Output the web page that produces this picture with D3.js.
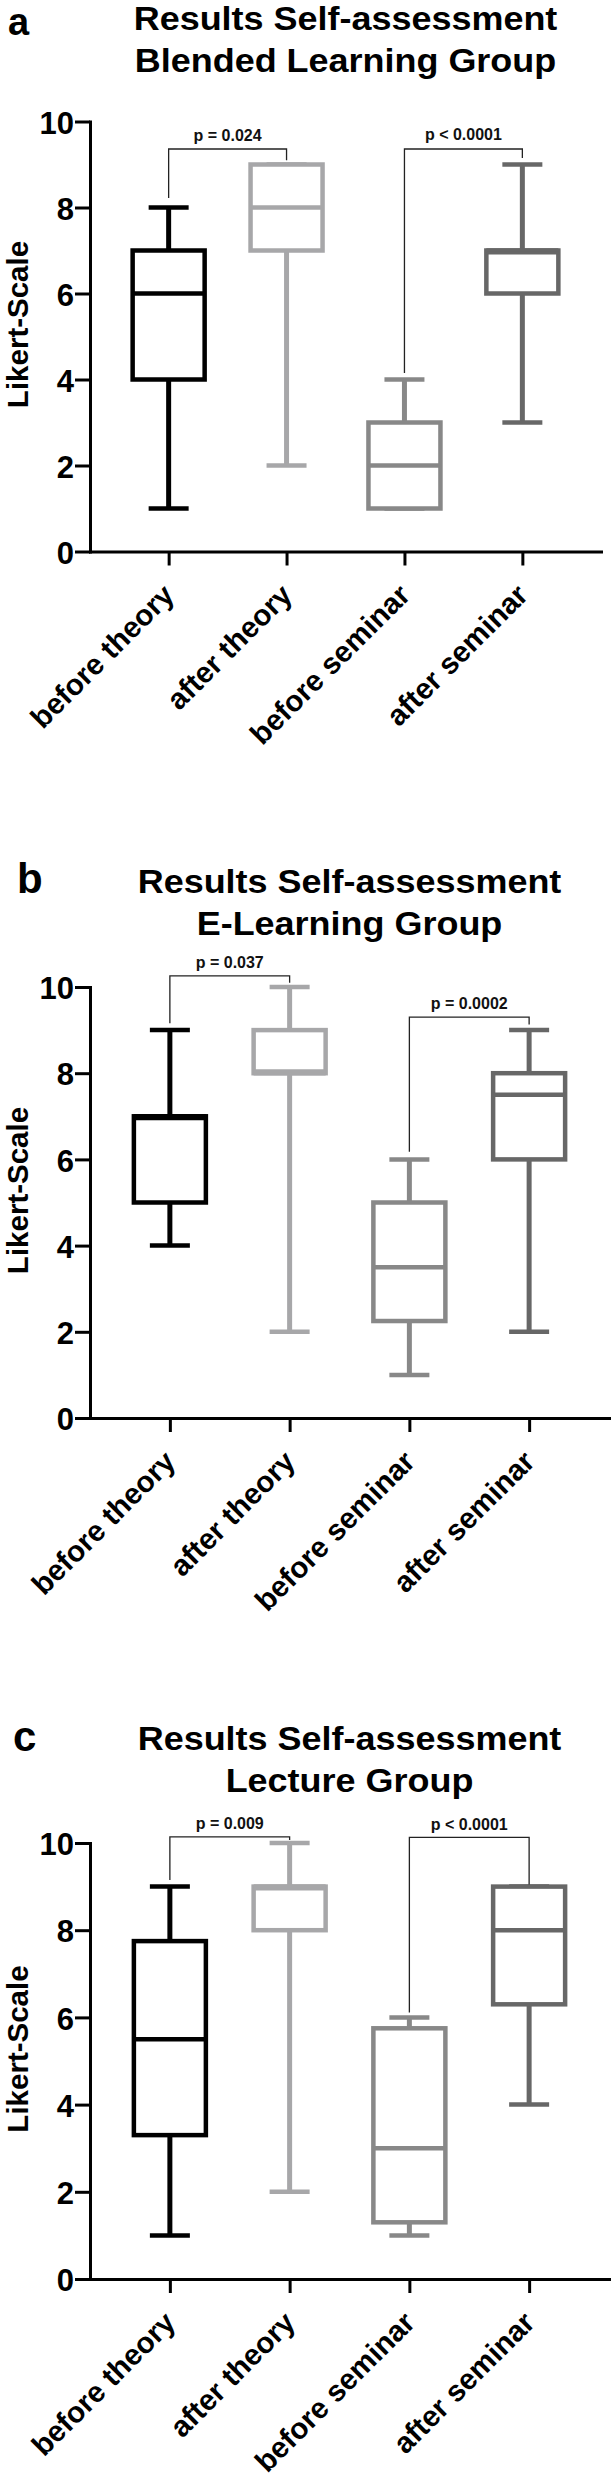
<!DOCTYPE html>
<html>
<head>
<meta charset="utf-8">
<script src="https://cdn.jsdelivr.net/npm/d3@7"></script>
<style>
  html, body { margin: 0; padding: 0; background: #ffffff; }
  svg { display: block; }
  text { font-family: "Liberation Sans", Arial, Helvetica, sans-serif; font-weight: bold; }
</style>
</head>
<body>
<script>
// ---------------- data ----------------
const categories = ["before theory", "after theory", "before seminar", "after seminar"];
const yTicks = [0, 2, 4, 6, 8, 10];

// [min, q1, median, q3, max] per category
const blendedStats   = [[1, 4, 6, 7, 8], [2, 7, 8, 9, 9], [1, 1, 2, 3, 4], [3, 6, 7, 7, 9]];
const eLearningStats = [[4, 5, 7, 7, 9], [2, 8, 8, 9, 10], [1, 2.25, 3.5, 5, 6], [2, 6, 7.5, 8, 9]];
const lectureStats   = [[1, 3.3, 5.5, 7.75, 9], [2, 8, 9, 9, 10], [1, 1.3, 3, 5.75, 6], [4, 6.3, 8, 9, 9]];

// significance brackets: [fromIndex, toIndex, barLevel, leftEnd, rightEnd, labelLevel]
const blendedP   = [[0, 1, 9.36, 8.22, 9.1, 9.55], [2, 3, 9.36, 4.15, 9.15, 9.57]];
const eLearningP = [[0, 1, 10.26, 9.16, 10.1, 10.45], [2, 3, 9.3, 6.18, 9.13, 9.49]];
const lectureP   = [[0, 1, 10.14, 9.15, 10.07, 10.31], [2, 3, 10.13, 6.11, 9.05, 10.3]];
const blendedPLabels   = ["p = 0.024", "p < 0.0001"];
const eLearningPLabels = ["p = 0.037", "p = 0.0002"];
const lecturePLabels   = ["p = 0.009", "p < 0.0001"];

const panelLetters = ["a", "b", "c"];
const titleLine1 = "Results Self-assessment";
const titleLine2 = ["Blended Learning Group", "E-Learning Group", "Lecture Group"];
const yLabel = "Likert-Scale";
const colors = ["#000000", "#a7a7a9", "#888888", "#676767"];

// ---------------- layout ----------------
const layouts = [
  { titleY: 30,   letterY: 35,  letterFs: 38, y10: 121.5, y0: 551.5, xR: [90, 601], letterX: 8 },
  { titleY: 893,  letterY: 893, letterFs: 42, y10: 987,   y0: 1418,  xR: [90, 609], letterX: 17 },
  { titleY: 1750, letterY: 1751, letterFs: 42, y10: 1843, y0: 2279,  xR: [90, 609], letterX: 13 }
];
const panelStats = [blendedStats, eLearningStats, lectureStats];
const panelP = [blendedP, eLearningP, lectureP];
const panelPLabels = [blendedPLabels, eLearningPLabels, lecturePLabels];

const svg = d3.select("body").append("svg")
  .attr("width", 611).attr("height", 2481);

layouts.forEach((L, pi) => {
  const g = svg.append("g");
  const y = d3.scaleLinear().domain([0, 10]).range([L.y0, L.y10]);
  const x = d3.scalePoint().domain(categories).range(L.xR).padding(0.667);
  const cx = (L.xR[0] + L.xR[1]) / 2;

  // panel letter
  g.append("text").attr("x", L.letterX).attr("y", L.letterY)
    .attr("font-size", L.letterFs).attr("fill", "#000").text(panelLetters[pi]);

  // title
  [titleLine1, titleLine2[pi]].forEach((t, i) => {
    g.append("g").attr("transform", `translate(${cx},${L.titleY + i * 42}) scale(1.09,1)`)
      .append("text").attr("text-anchor", "middle").attr("font-size", 33)
      .attr("fill", "#000").text(t);
  });

  // y axis
  const ya = g.append("g").attr("transform", `translate(${L.xR[0]},0)`)
    .call(d3.axisLeft(y).tickValues(yTicks).tickFormat(d3.format("d"))
      .tickSize(15).tickSizeOuter(0).tickPadding(1));
  ya.select(".domain").attr("stroke", "#000").attr("stroke-width", 3).attr("stroke-linecap", "square");
  ya.selectAll(".tick line").attr("stroke", "#000").attr("stroke-width", 3);
  ya.selectAll(".tick text").attr("font-size", 31).attr("fill", "#000")
    .attr("font-family", "'Liberation Sans', Arial, sans-serif").attr("font-weight", "bold")
    .attr("dy", "0.38em");

  // x axis
  const xa = g.append("g").attr("transform", `translate(0,${L.y0})`)
    .call(d3.axisBottom(x).tickSize(14).tickSizeOuter(0).tickFormat(""));
  xa.select(".domain").attr("stroke", "#000").attr("stroke-width", 3).attr("stroke-linecap", "square");
  xa.selectAll(".tick line").attr("stroke", "#000").attr("stroke-width", 3);

  // x labels rotated
  g.selectAll(".xlab").data(categories).enter().append("text")
    .attr("class", "xlab")
    .attr("transform", d => `translate(${x(d)},${L.y0 + 38}) rotate(-45)`)
    .attr("text-anchor", "end").attr("dy", "0.35em")
    .attr("font-size", 29.5).attr("fill", "#000").text(d => d);

  // y label
  g.append("text")
    .attr("transform", `translate(27.5,${(L.y10 + L.y0) / 2 - 12}) rotate(-90)`)
    .attr("text-anchor", "middle").attr("font-size", 29.5).attr("fill", "#000")
    .text(yLabel);

  // boxes
  const boxW = 72, capW = 40;
  panelStats[pi].forEach((s, i) => {
    const c = categories[i];
    const xc = x(c);
    const col = colors[i];
    const [mn, q1, md, q3, mx] = s;
    const bg = g.append("g").attr("stroke", col).attr("fill", "none");
    // whiskers
    bg.append("line").attr("x1", xc).attr("x2", xc).attr("y1", y(q3)).attr("y2", y(mx)).attr("stroke-width", 5);
    bg.append("line").attr("x1", xc).attr("x2", xc).attr("y1", y(q1)).attr("y2", y(mn)).attr("stroke-width", 5);
    // caps
    [mn, mx].forEach(v => {
      bg.append("line").attr("x1", xc - capW / 2).attr("x2", xc + capW / 2)
        .attr("y1", y(v)).attr("y2", y(v)).attr("stroke-width", 4.5);
    });
    // box
    bg.append("rect").attr("x", xc - boxW / 2).attr("width", boxW)
      .attr("y", y(q3)).attr("height", y(q1) - y(q3))
      .attr("fill", "#fff").attr("stroke-width", 4.5);
    // median
    bg.append("line").attr("x1", xc - boxW / 2).attr("x2", xc + boxW / 2)
      .attr("y1", y(md)).attr("y2", y(md)).attr("stroke-width", 4.5);
    if (md === q3) {
      bg.append("line").attr("x1", xc - boxW / 2).attr("x2", xc + boxW / 2)
        .attr("y1", y(md) + 2.5).attr("y2", y(md) + 2.5).attr("stroke-width", 3);
    }
    if (md === q1) {
      bg.append("line").attr("x1", xc - boxW / 2).attr("x2", xc + boxW / 2)
        .attr("y1", y(md) - 2.5).attr("y2", y(md) - 2.5).attr("stroke-width", 3);
    }
  });

  // significance brackets
  panelP[pi].forEach((b, k) => {
    const [fi, ti, lvl, le, re, tl] = b;
    const x1 = x(categories[fi]), x2 = x(categories[ti]);
    g.append("path")
      .attr("d", `M${x1},${y(le)}V${y(lvl)}H${x2}V${y(re)}`)
      .attr("fill", "none").attr("stroke", "#222").attr("stroke-width", 1.3);
    g.append("text").attr("x", (x1 + x2) / 2).attr("y", y(tl))
      .attr("text-anchor", "middle").attr("font-size", 16).attr("fill", "#111")
      .text(panelPLabels[pi][k]);
  });
});
</script>
</body>
</html>
